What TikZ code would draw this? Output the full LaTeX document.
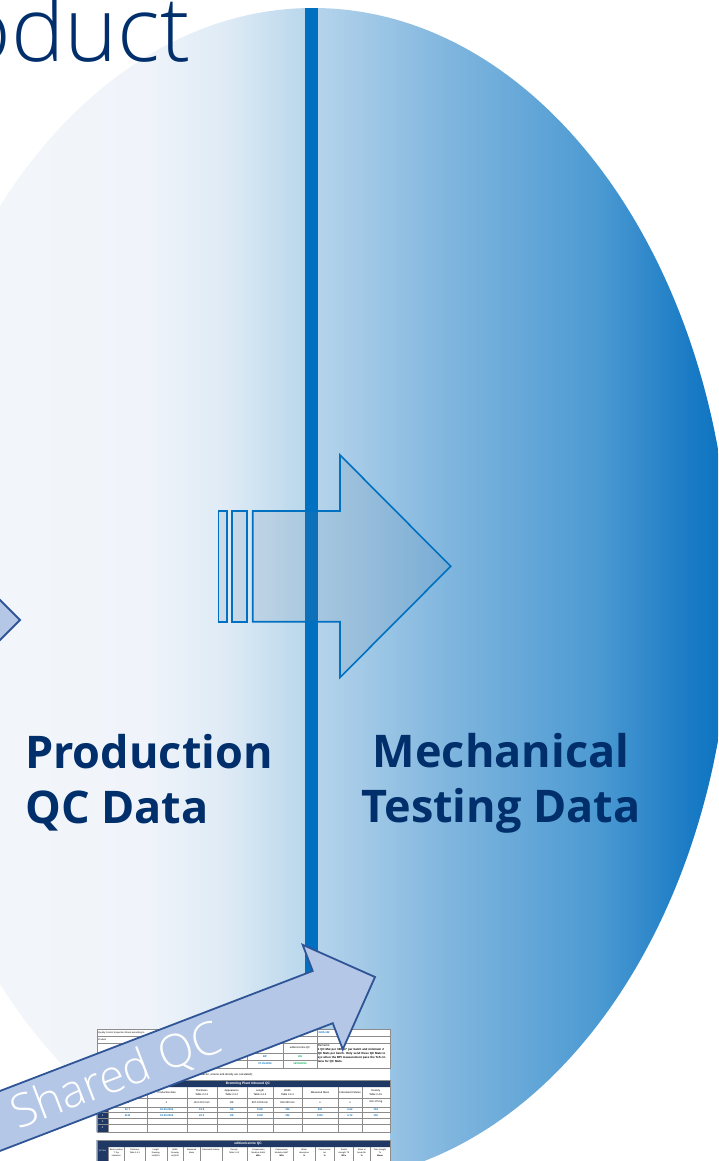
\documentclass[tikz,border=0pt]{standalone}
\usepackage{fontspec}
\setmainfont{Open Sans}
\IfFontExistsTF{Open Sans Light}{\newfontfamily\thinfont{Open Sans Light}}{\newfontfamily\thinfont{Open Sans}}
\newfontfamily\sheetfont{Liberation Sans}
\usetikzlibrary{positioning}

\definecolor{navytext}{HTML}{002F6C}
\definecolor{barblue}{HTML}{0070C0}
\definecolor{arrowfill}{HTML}{B4C7E7}
\definecolor{arrowline}{HTML}{2F5597}
\definecolor{hdrnavy}{HTML}{1F3864}
\definecolor{valgreen}{HTML}{00B050}
\definecolor{gridgray}{HTML}{8C8C8C}
\definecolor{fadeA}{HTML}{F4F7FB}
\definecolor{fadeB}{HTML}{F0F4FA}
\definecolor{fadeC}{HTML}{DDEAF5}
\definecolor{fadeD}{HTML}{BDD9ED}
\definecolor{fadeE}{HTML}{B0D1EA}
\definecolor{fadeF}{HTML}{80B6DE}
\definecolor{fadeG}{HTML}{4C9AD2}
\definecolor{fadeH}{HTML}{1A7BC5}
\definecolor{fadeI}{HTML}{0A72C0}
\pgfdeclarehorizontalshading{qcfade}{100bp}{color(0bp)=(fadeA); color(25bp)=(fadeA);
  color(40bp)=(fadeB); color(45bp)=(fadeC); color(49bp)=(fadeD); color(51bp)=(fadeE);
  color(58bp)=(fadeF); color(67bp)=(fadeG); color(72.5bp)=(fadeH); color(75bp)=(fadeI); color(100bp)=(fadeI)}

\begin{document}
\begin{tikzpicture}[x=1pt,y=-1pt,
  title/.style={text=navytext, font=\bfseries\fontsize{45}{55}\selectfont, inner sep=0pt},
  hollow/.style={draw=barblue, line width=1.6pt, fill={rgb,255:red,90;green,124;blue,158}, fill opacity=0.15},
  flow/.style={draw=arrowline, line width=1.8pt, fill=arrowfill},
  grid/.style={draw=gridgray, line width=0.3pt},
  cell/.style={font=\sheetfont\fontsize{2.6}{3.6}\selectfont, inner sep=0pt, align=center},
  small/.style={font=\sheetfont\fontsize{2.1}{2.8}\selectfont, inner sep=0pt, align=center},
  val/.style={cell, text=barblue, font=\sheetfont\bfseries\fontsize{2.6}{3.2}\selectfont},
  hdrtext/.style={cell, text=white, font=\sheetfont\bfseries\fontsize{3.3}{3.6}\selectfont}]
\useasboundingbox (0,0) rectangle (718,1161);
\clip (0,0) rectangle (718,1161);

% ellipse and divider
\shade[shading=qcfade] (313,595) ellipse [x radius=418, y radius=587];
\fill[barblue] (305,8) rectangle (318,1010);

% striped arrow
\path[hollow] (218.3,511) rectangle (226.7,621.7) (231.7,511) rectangle (246.7,621.7);
\path[hollow] (252.7,511) -- (340,511) -- (340,455) -- (450.7,566.3) -- (340,677.5) -- (340,621.7) -- (252.7,621.7) -- cycle;
\path[flow] (-40,560) -- (20,620) -- (-40,680) -- cycle;

\node[title, anchor=base west, align=left] (prodqc) at (25,823) {Production\\QC Data};
\node[title, anchor=base, align=center] (mechdata) at (501,822) {Mechanical\\Testing Data};
\node[text=navytext, font=\thinfont\fontsize{90}{90}\selectfont, anchor=base east, inner sep=0pt] (product) at (191,62) {Product};

% QC sheet
\fill[white] (96.7,1029) rectangle (390,1170);
\draw[grid] (96.7,1029) rectangle (390,1068);
\draw[grid] (96.7,1036) -- (390,1036) (96.7,1043) -- (390,1043) (96.7,1053) -- (316.7,1053) (96.7,1060) -- (316.7,1060);
\draw[grid] (316.7,1029) -- (316.7,1068) (246.7,1043) -- (246.7,1068) (283,1043) -- (283,1068);
\node[cell, anchor=west, font=\sheetfont\fontsize{2.3}{2.8}\selectfont] (sheettitle) at (98,1032.5) {Quality Control Inspection Sheet according to};
\node[cell, anchor=west, font=\sheetfont\fontsize{2.3}{2.8}\selectfont] (productcell) at (98,1039.5) {Product};
\node[val, anchor=west] (sheetno) at (318.5,1032.5) {2405-102};
\node[cell] (qcby) at (265,1048) {Producer QC};
\node[cell] (qccentre) at (300,1048) {edition/centre QC};
\node[val] (inspA) at (265,1056.5) {BP};
\node[val, text=valgreen] (inspB) at (300,1056.5) {HN};
\node[val] (dateA) at (265,1064) {07.05.2024};
\node[val, text=valgreen] (dateB) at (300,1064) {16/05/2024};
\node[cell, anchor=north west, align=left, text width=71pt, font=\sheetfont\fontsize{2.9}{4}\selectfont] (remarks) at (317.6,1044.2)
  {Remarks:\\\textbf{1 QC Mat per 3000m² per batch and minimum 2 QC Mats per batch. Only send these QC Mats to xyz when the BPI measurement pass the TeS criteria for QC Mats.}};
\node[cell, anchor=east, font=\sheetfont\fontsize{2.7}{3}\selectfont] (note) at (253,1075) {manufactur, volume and density are calculated):};

% inbound table
\fill[hdrnavy] (96.7,1080) rectangle (390,1087) (96.7,1087) rectangle (108.3,1132);
\draw[grid] (96.7,1080) rectangle (390,1132);
\foreach \y in {1098,1106.7,1112.3,1118.3,1124.3}
  \draw[grid] (96.7,\y) -- (390,\y);
\foreach \x in {108.3,146.7,186.7,216.7,246.7,273.3,301.7,338.3,361.7}
  \draw[grid] (\x,1087) -- (\x,1132);
\node[hdrtext] (inbound) at (248,1083.5) {Bremning Plant Inbound QC};
\foreach \x/\t/\u in {166.7/Production date/n/a, 201.7/{Thickness\\Table 2.4.3}/18.0-20.0 mm,
    231.7/{Appearance\\Table 2.4.2}/OK, 260/{Length\\Table 2.4.4}/997-1003 mm, 287.5/{Width\\Table 2.4.4}/330-335 mm,
    320/Measured Mass/n/a, 350/Calculated Volume/n/a, 375.8/{Density\\Table 2.4.5}/150-175 kg/m3} {
  \node[cell] at (\x,1092.5) {\t};
  \node[cell] at (\x,1102.3) {\u};
}
\node[cell] (unitfirst) at (127.5,1102.3) {n/a};
\foreach \x/\a/\b in {127.5/22 T/24 B, 166.7/02.05.2024/03.05.2024, 201.7/19.9/20.2, 231.7/OK/OK, 260/1002/1002,
    287.5/332/332, 320/992/1010, 350/6.62/6.72, 375.8/152/150} {
  \node[val] at (\x,1109.5) {\a};
  \node[val] at (\x,1115.3) {\b};
}
\foreach \n/\y in {2/1115.3,3/1121.3,4/1128}
  \node[cell, text=white] at (102.5,\y) {\n};

% centre table
\fill[hdrnavy] (96.7,1140) rectangle (390,1147) (96.7,1147) rectangle (108.3,1170);
\draw[grid] (96.7,1140) rectangle (390,1170);
\foreach \x in {108.3,124.3,145,166.7,183.3,200,221.7,246.7,270,293.3,315,334.3,353.3,370}
  \draw[grid] (\x,1147) -- (\x,1170);
\node[hdrtext] (centreqc) at (248,1143.5) {edition/centre QC};
\node[small, text=white] (qcmat) at (102.5,1151) {QC Mat};
\foreach \x/\t in {116.3/{Block number\\T-Top\\indication}, 134.7/{Thickness\\Table 2.4.3}, 155.8/{Length\\Drawing\\HeQ015},
    175/{Width\\Drawing\\HeQ015}, 191.7/{Measured\\Mass}, 210.8/Calculated Volume, 234.2/{Density\\Table 2.4.3},
    258.3/{Compression\\Modulus Ed44\\\textbf{MPa}}, 281.7/{Compression\\Modulus Ed47\\\textbf{MPa}},
    304.2/{Water\\absorption\\\textbf{\%}}, 324.7/{Compression\\set\\\textbf{\%}}, 343.8/{Tensile\\strength TS\\\textbf{MPa}},
    361.7/{Strain at\\break Eb\\\textbf{\%}}, 380/{Tear strength\\Ts\\\textbf{N/mm}}}
  \node[small, anchor=north] at (\x,1149) {\t};

% shared arrow
\begin{scope}[shift={(375,977)}, rotate=21]
  \path[flow] (0,0) -- (-56,-56) -- (-56,-28) -- (-460,-28) -- (-460,28) -- (-56,28) -- (-56,56) -- cycle;
  \node[text=white, font=\thinfont\fontsize{46}{46}\selectfont, rotate=21] (sharedqc) at (-277,1) {Shared QC};
\end{scope}
\end{tikzpicture}
\end{document}
